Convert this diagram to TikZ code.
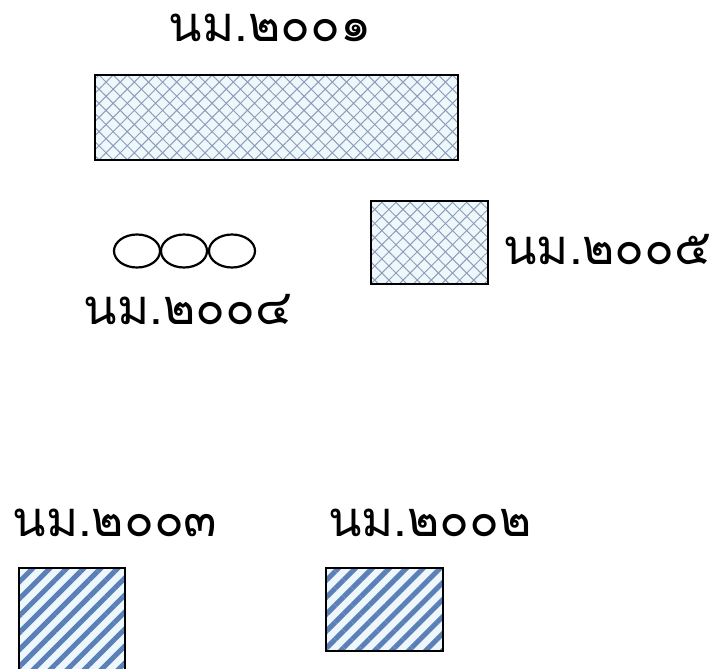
\documentclass[tikz,border=0pt]{standalone}
\usepackage{fontspec}
\newfontfamily\thaifont[Script=Thai]{Loma}
\usetikzlibrary{patterns.meta,shapes.geometric}
\definecolor{paleblue}{HTML}{EEF7FB}
\definecolor{gridline}{HTML}{8C9DB8}
\definecolor{stripe}{HTML}{5B80B8}
\tikzset{
  lbl/.style={font=\thaifont\fontsize{49}{56}\selectfont, inner sep=0pt},
  boxline/.style={draw=black, line width=1.5pt},
  oval/.style={draw=black, line width=2.2pt, ellipse, minimum width=46pt, minimum height=33pt, inner sep=0pt},
}
\newcommand{\latticebox}[4]{%
  \fill[paleblue] (#1,#2) rectangle (#3,#4);
  \fill[pattern={Lines[angle=45,distance=10pt,line width=1pt]}, pattern color=gridline] (#1,#2) rectangle (#3,#4);
  \fill[pattern={Lines[angle=-45,distance=10pt,line width=1pt]}, pattern color=gridline] (#1,#2) rectangle (#3,#4);
  \draw[boxline] (#1,#2) rectangle (#3,#4);}
\newcommand{\stripebox}[4]{%
  \fill[paleblue] (#1,#2) rectangle (#3,#4);
  \fill[pattern={Lines[angle=45,distance=12pt,line width=5pt]}, pattern color=stripe] (#1,#2) rectangle (#3,#4);
  \draw[boxline] (#1,#2) rectangle (#3,#4);}
\begin{document}
\begin{tikzpicture}[x=1pt,y=-1pt]
\useasboundingbox (0,0) rectangle (718,669);
\latticebox{95}{75}{458}{160}
\latticebox{371}{201}{488}{284}
\stripebox{19}{568}{125}{680}
\stripebox{326}{568}{443}{651}
\node[oval] (e1) at (137,251) {};
\node[oval] (e2) at (184,251) {};
\node[oval] (e3) at (232,251) {};
\node[lbl] (t1) at (270,28) {นม.๒๐๐๑};
\node[lbl, anchor=east] (t5) at (712,250) {นม.๒๐๐๕};
\node[lbl] (t4) at (188,310) {นม.๒๐๐๔};
\node[lbl] (t3) at (115,523) {นม.๒๐๐๓};
\node[lbl] (t2) at (430,523) {นม.๒๐๐๒};
\end{tikzpicture}
\end{document}
